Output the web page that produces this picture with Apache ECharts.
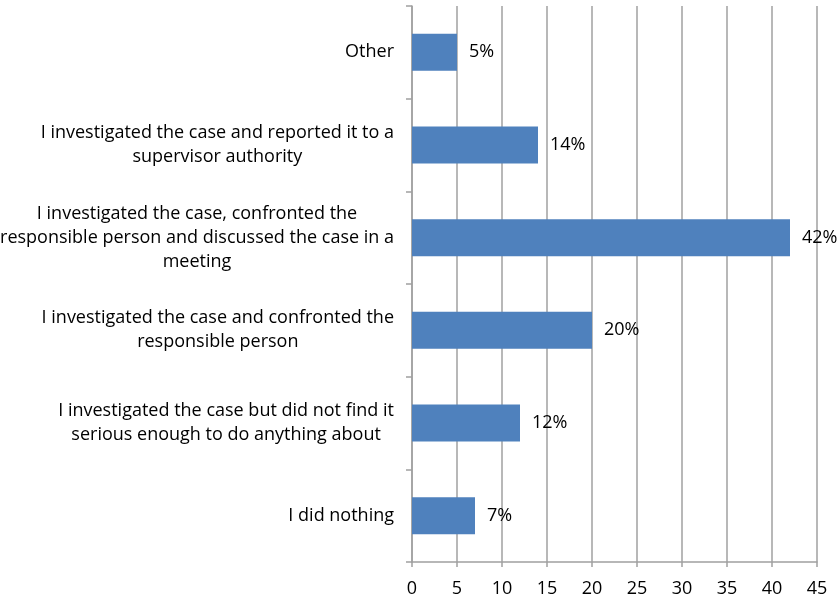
<!DOCTYPE html>
<html><head><meta charset="utf-8">
<script src="https://cdn.jsdelivr.net/npm/echarts@6/dist/echarts.min.js"></script>
<style>html,body{margin:0;padding:0;background:#fff}#c{width:839px;height:602px}</style>
</head><body><div id="c"></div>
<script>
const categories = [
  "I did nothing",
  "I investigated the case but did not find it\nserious enough to do anything about",
  "I investigated the case and confronted the\nresponsible person",
  "I investigated the case, confronted the\nresponsible person and discussed the case in a\nmeeting",
  "I investigated the case and reported it to a\nsupervisor authority",
  "Other"
];
const values = [7, 12, 20, 42, 14, 5];
const xTicks = {min: 0, max: 45, interval: 5};

const chart = echarts.init(document.getElementById('c'));
const font = '"Open Sans", "Noto Sans", sans-serif';
chart.setOption({
  animation: false,
  grid: {left: 412, right: 22, top: 6, bottom: 40, containLabel: false, outerBoundsMode: 'none'},
  xAxis: {
    type: 'value', min: xTicks.min, max: xTicks.max, interval: xTicks.interval,
    axisLine: {show: true, lineStyle: {color: '#a0a0a0', width: 1.5}},
    axisTick: {show: true, length: 5, lineStyle: {color: '#a0a0a0', width: 1.5}},
    axisLabel: {color: '#000', fontSize: 18, fontFamily: font, margin: 18},
    splitLine: {show: true, lineStyle: {color: '#a0a0a0', width: 1.5}}
  },
  yAxis: {
    type: 'category', data: categories,
    axisLine: {show: true, lineStyle: {color: '#a0a0a0', width: 1.5}},
    axisTick: {show: true, length: 6, lineStyle: {color: '#a0a0a0', width: 1.5}},
    axisLabel: {
      color: '#000', fontSize: 18, fontFamily: font, margin: 18, lineHeight: 24,
      formatter: v => v.split('\n').map(l => '{c|' + l + '}').join('\n'),
      rich: {c: {align: 'center', color: '#000', fontSize: 18, fontFamily: font, lineHeight: 24}}
    }
  },
  series: [{
    type: 'bar', data: values, barWidth: 37,
    itemStyle: {color: '#4f81bd'},
    label: {show: true, position: 'right', distance: 12, formatter: '{c}%', color: '#000', fontSize: 18, fontFamily: font}
  }]
});
</script></body></html>
